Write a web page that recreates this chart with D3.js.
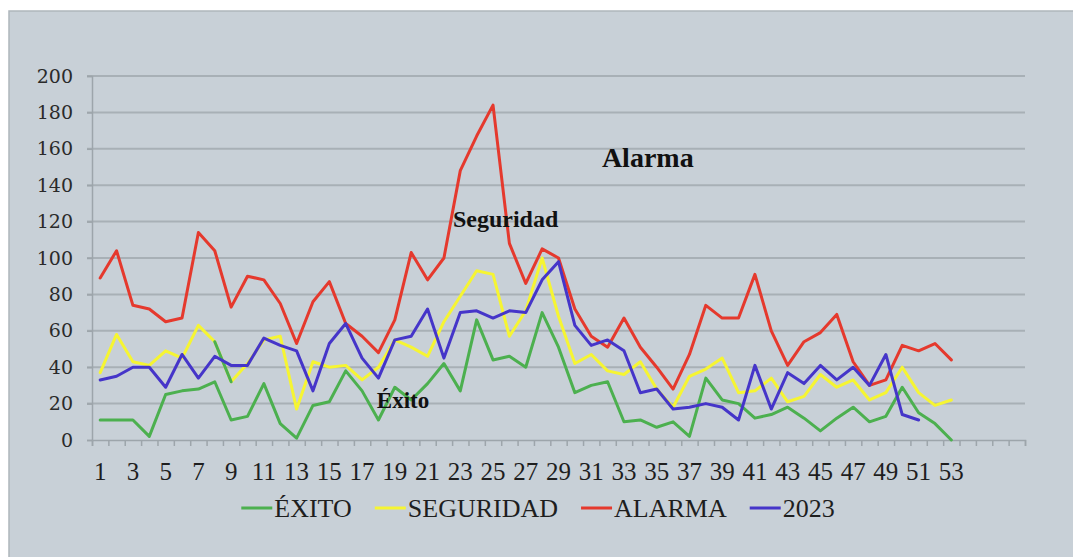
<!DOCTYPE html>
<html>
<head>
<meta charset="utf-8">
<script src="https://cdn.jsdelivr.net/npm/d3@7"></script>
<style>
  html, body { margin: 0; padding: 0; background: #fff; }
  svg { display: block; }
</style>
</head>
<body>
<div id="app"></div>
<script>
const semanas = d3.range(1, 54)
const etiquetasX = d3.range(1, 54, 2)
const ticksY = d3.range(0, 201, 20)

const exito = [11, 11, 11, 2, 25, 27, 28, 32, 11, 13, 31, 9, 1, 19, 21, 38, 27, 11, 29, 22, 31, 42, 27, 66, 44, 46, 40, 70, 51, 26, 30, 32, 10, 11, 7, 10, 2, 34, 22, 20, 12, 14, 18, 12, 5, 12, 18, 10, 13, 29, 15, 9, 0]
const seguridad = [37, 58, 43, 41, 49, 45, 63, 54, 32, 42, 55, 57, 17, 43, 40, 41, 33, 40, 55, 51, 46, 65, 79, 93, 91, 57, 71, 100, 68, 42, 47, 38, 36, 43, 28, 18, 35, 39, 45, 26, 27, 34, 21, 24, 36, 29, 33, 22, 26, 40, 26, 19, 22]
const alarma = [89, 104, 74, 72, 65, 67, 114, 104, 73, 90, 88, 75, 53, 76, 87, 64, 57, 48, 66, 103, 88, 100, 148, 167, 184, 108, 86, 105, 100, 72, 57, 51, 67, 51, 40, 28, 47, 74, 67, 67, 91, 60, 41, 54, 59, 69, 43, 30, 33, 52, 49, 53, 44]
const anio2023 = [33, 35, 40, 40, 29, 47, 34, 46, 41, 41, 56, 52, 49, 27, 53, 64, 45, 34, 55, 57, 72, 45, 70, 71, 67, 71, 70, 88, 98, 63, 52, 55, 49, 26, 28, 17, 18, 20, 18, 11, 41, 17, 37, 31, 41, 33, 40, 30, 47, 14, 11]

const series = [
  { nombre: 'ÉXITO', valores: exito, color: '#4cb04f' },
  { nombre: 'SEGURIDAD', valores: seguridad, color: '#f6f532' },
  { nombre: 'ALARMA', valores: alarma, color: '#e5392d' },
  { nombre: '2023', valores: anio2023, color: '#4535c9' },
]

// tramo de SEGURIDAD que en el original sale en verde
const tramoVerde = [8, 9]

const anotaciones = [
  { texto: 'Alarma', semana: 31.65, valor: 150, size: 28 },
  { texto: 'Seguridad', semana: 22.55, valor: 117, size: 24 },
  { texto: 'Éxito', semana: 17.9, valor: 17.6, size: 23 },
]

const width = 1073
const height = 557

const svg = d3.select('#app')
  .append('svg')
  .attr('width', width)
  .attr('height', height)

svg.append('rect')
  .attr('x', 9)
  .attr('y', 11)
  .attr('width', width)
  .attr('height', height)
  .attr('fill', '#c8d0d7')
  .attr('stroke', '#aeb6bc')
  .attr('stroke-width', 1.5)

const x = d3.scaleLinear().domain([0.5, 57.5]).range([92, 1025])
const y = d3.scaleLinear().domain([0, 200]).range([440, 76])

// rejilla
svg.append('g')
  .selectAll('line')
  .data(ticksY.filter((d) => d > 0))
  .join('line')
  .attr('x1', x(0.5) - 5)
  .attr('x2', x(57.5))
  .attr('y1', (d) => y(d))
  .attr('y2', (d) => y(d))
  .attr('stroke', '#a8b0b6')
  .attr('stroke-width', 2)

const ejeY = svg.append('g')
  .attr('transform', `translate(${x(0.5)},0)`)
  .call(d3.axisLeft(y).tickValues(ticksY).tickSize(5).tickPadding(14))

ejeY.select('.domain').attr('stroke', '#9da5ab').attr('stroke-width', 1.5)
ejeY.selectAll('.tick line').attr('stroke', '#9da5ab').attr('stroke-width', 1.5)
ejeY.selectAll('.tick text')
  .attr('font-family', 'DejaVu Serif')
  .attr('font-size', 19)
  .attr('fill', '#2a2a2a')

const ejeX = svg.append('g')
  .attr('transform', `translate(0,${y(0)})`)
  .call(d3.axisBottom(x)
    .tickValues(d3.range(0.5, 58, 1))
    .tickSize(6)
    .tickFormat(''))

ejeX.select('.domain').attr('stroke', '#9da5ab').attr('stroke-width', 1.5)
ejeX.selectAll('.tick line').attr('stroke', '#9da5ab').attr('stroke-width', 1.5)

svg.append('g')
  .selectAll('text')
  .data(etiquetasX)
  .join('text')
  .attr('x', (d) => x(d))
  .attr('y', y(0) + 40)
  .attr('text-anchor', 'middle')
  .attr('font-family', 'Liberation Serif')
  .attr('font-size', 25)
  .attr('fill', '#1e1e1e')
  .text((d) => d)

const linea = d3.line()
  .x((d) => x(d.semana))
  .y((d) => y(d.valor))

const puntos = (valores) => valores.map((v, i) => ({ semana: semanas[i], valor: v }))

series.forEach((s) => {
  svg.append('path')
    .datum(puntos(s.valores))
    .attr('d', linea)
    .attr('fill', 'none')
    .attr('stroke', s.color)
    .attr('stroke-width', 3)
    .attr('stroke-linejoin', 'round')
    .attr('stroke-linecap', 'round')

  if (s.nombre === 'SEGURIDAD') {
    svg.append('path')
      .datum(puntos(s.valores).filter((d) => d.semana >= tramoVerde[0] && d.semana <= tramoVerde[1]))
      .attr('d', linea)
      .attr('fill', 'none')
      .attr('stroke', series[0].color)
      .attr('stroke-width', 3)
      .attr('stroke-linecap', 'round')
  }
})

svg.append('g')
  .selectAll('text')
  .data(anotaciones)
  .join('text')
  .attr('x', (d) => x(d.semana))
  .attr('y', (d) => y(d.valor))
  .attr('font-family', 'Liberation Serif')
  .attr('font-weight', 'bold')
  .attr('font-size', (d) => d.size)
  .attr('fill', '#111')
  .text((d) => d.texto)

// leyenda
const leyenda = svg.append('g')
let cursor = 0
series.forEach((s) => {
  const item = leyenda.append('g').attr('transform', `translate(${cursor},0)`)
  item.append('line')
    .attr('x1', 0)
    .attr('x2', 31)
    .attr('y1', 0)
    .attr('y2', 0)
    .attr('stroke', s.color)
    .attr('stroke-width', 3)
  const t = item.append('text')
    .attr('x', 33)
    .attr('y', 9)
    .attr('font-family', 'Liberation Serif')
    .attr('font-size', 26)
    .attr('fill', '#1e1e1e')
    .text(s.nombre)
  cursor += 33 + t.node().getComputedTextLength() + 23
})
const anchoLeyenda = cursor - 23
leyenda.attr('transform', `translate(${538 - anchoLeyenda / 2},508)`)
</script>
</body>
</html>
